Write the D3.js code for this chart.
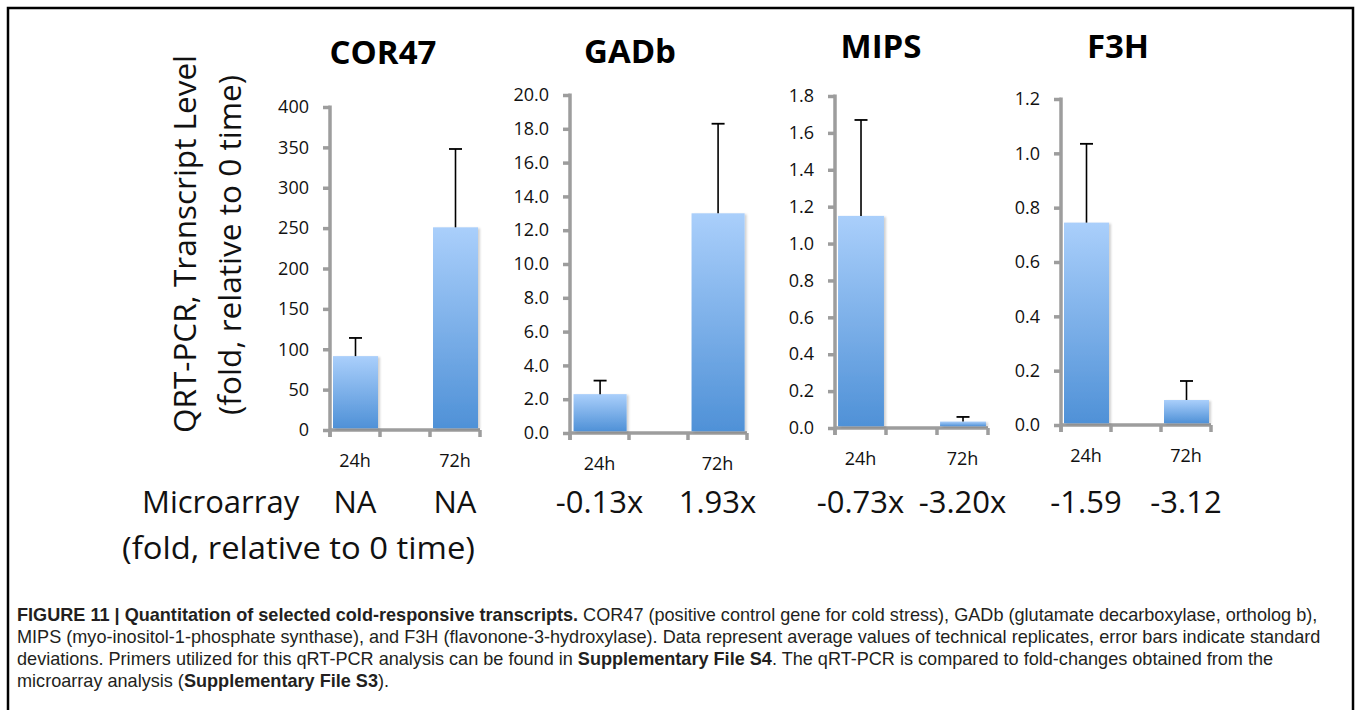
<!DOCTYPE html>
<html lang="en">
<head>
<meta charset="utf-8">
<title>Quantitation of selected cold-responsive transcripts</title>
<script src="https://d3js.org/d3.v7.min.js"></script>
<style>
body { margin: 0; background: #fff; }
svg text { font-family: "Open Sans", sans-serif; }
.caption text, .caption tspan { font-family: "Liberation Sans", Arial, sans-serif; }
</style>
</head>
<body>
<script>
// 1. data
const genes = ["COR47", "GADb", "MIPS", "F3H"];
const timepoints = ["24h", "72h"];
const qpcrMeans = [[91.5, 251], [2.3, 13.0], [1.15, 0.035], [0.745, 0.092]];
const qpcrSDs = [[22.5, 97], [0.8, 5.3], [0.52, 0.025], [0.29, 0.07]];
const yMaxes = [400, 20, 1.8, 1.2];
const yTickSteps = [50, 2, 0.2, 0.2];
const yTickFormats = ["d", ".1f", ".1f", ".1f"];
const microarrayFolds = [["NA", "NA"], ["-0.13x", "1.93x"], ["-0.73x", "-3.20x"], ["-1.59", "-3.12"]];

// 2. layout of each little panel (pixels)
const panelLayout = [
    {x0: 330, top: 107, zero: 430, band: 50, titleX: 383, titleY: 64},
    {x0: 570, top: 95,  zero: 433, band: 59, titleX: 630, titleY: 63},
    {x0: 835, top: 96,  zero: 428, band: 51, titleX: 881, titleY: 58},
    {x0: 1061, top: 99, zero: 425, band: 50, titleX: 1118, titleY: 58}
];
const svgWidth = 1358;
const svgHeight = 710;
const axisColor = "#9d9d9d";

const svg = d3.select("body")
    .append("svg")
    .attr("width", svgWidth)
    .attr("height", svgHeight);

svg.append("rect")
    .attr("width", svgWidth)
    .attr("height", svgHeight)
    .attr("fill", "#fff");

// frame round the whole figure (bottom edge is cut off)
svg.append("rect")
    .attr("x", 8).attr("y", 8)
    .attr("width", 1345).attr("height", 740)
    .attr("fill", "none")
    .attr("stroke", "#000")
    .attr("stroke-width", 2.5);

const defs = svg.append("defs");
const grad = defs.append("linearGradient")
    .attr("id", "barGrad")
    .attr("x1", 0).attr("y1", 0).attr("x2", 0).attr("y2", 1);
grad.append("stop").attr("offset", "0%").attr("stop-color", "#aacffb");
grad.append("stop").attr("offset", "100%").attr("stop-color", "#4f91d7");

const shadow = defs.append("filter").attr("id", "shadow")
    .attr("x", "-20%").attr("y", "-20%").attr("width", "140%").attr("height", "140%");
shadow.append("feDropShadow")
    .attr("dx", 2).attr("dy", 1)
    .attr("stdDeviation", 1)
    .attr("flood-color", "#000")
    .attr("flood-opacity", 0.18);

// 3. one panel per gene
genes.forEach((gene, gi) => {
    const p = panelLayout[gi];
    const g = svg.append("g");

    // empty middle slot keeps the gap between the two bars, like the original sheet
    const xScale = d3.scaleBand()
        .domain([timepoints[0], "gap", timepoints[1]])
        .range([p.x0, p.x0 + 3 * p.band])
        .padding(0);

    const yScale = d3.scaleLinear()
        .domain([0, yMaxes[gi]])
        .range([p.zero, p.top]);

    const nTicks = Math.round(yMaxes[gi] / yTickSteps[gi]);
    const tickVals = d3.range(0, nTicks + 1).map(i => +(i * yTickSteps[gi]).toFixed(4));

    //y axis
    const leftAxis = d3.axisLeft(yScale)
        .tickValues(tickVals)
        .tickSize(7)
        .tickSizeOuter(0)
        .tickPadding(14)
        .tickFormat(d3.format(yTickFormats[gi]));

    const yAxisG = g.append("g")
        .attr("transform", "translate(" + p.x0 + ",0)")
        .call(leftAxis);
    yAxisG.select(".domain").remove();
    yAxisG.selectAll(".tick line")
        .attr("stroke", axisColor)
        .attr("stroke-width", 3.5);
    yAxisG.selectAll(".tick text")
        .attr("fill", "#111")
        .style("font-size", "18px");

    g.append("line")
        .attr("x1", p.x0).attr("x2", p.x0)
        .attr("y1", p.top - 1.5).attr("y2", p.zero + 7)
        .attr("stroke", axisColor)
        .attr("stroke-width", 3.5);

    // x axis: line plus ticks on the slot edges
    const xEnd = xScale.range()[1];
    g.append("line")
        .attr("x1", p.x0).attr("x2", xEnd)
        .attr("y1", p.zero).attr("y2", p.zero)
        .attr("stroke", axisColor)
        .attr("stroke-width", 3.5);

    const edges = xScale.domain().map(d => xScale(d)).concat([xEnd]);
    g.selectAll(null)
        .data(edges)
        .enter()
        .append("line")
        .attr("x1", d => d).attr("x2", d => d)
        .attr("y1", p.zero).attr("y2", p.zero + 7)
        .attr("stroke", axisColor)
        .attr("stroke-width", 3.5);

    const rows = timepoints.map((t, ti) => ({
        t: t,
        mean: qpcrMeans[gi][ti],
        sd: qpcrSDs[gi][ti],
        fold: microarrayFolds[gi][ti]
    }));
    const bw = xScale.bandwidth();

    //bars
    g.selectAll(null)
        .data(rows)
        .enter()
        .append("rect")
        .attr("x", d => xScale(d.t) + bw * 0.06)
        .attr("y", d => yScale(d.mean))
        .attr("width", bw * 0.9)
        .attr("height", d => p.zero - 1.75 - yScale(d.mean))
        .attr("fill", "url(#barGrad)")
        .attr("filter", "url(#shadow)");

    // error bars (upper half only)
    const cx = d => xScale(d.t) + bw * 0.51;
    g.selectAll(null)
        .data(rows)
        .enter()
        .append("line")
        .attr("x1", cx).attr("x2", cx)
        .attr("y1", d => yScale(d.mean))
        .attr("y2", d => yScale(d.mean + d.sd))
        .attr("stroke", "#000")
        .attr("stroke-width", 1.6);
    g.selectAll(null)
        .data(rows)
        .enter()
        .append("line")
        .attr("x1", d => cx(d) - 6.5).attr("x2", d => cx(d) + 6.5)
        .attr("y1", d => yScale(d.mean + d.sd))
        .attr("y2", d => yScale(d.mean + d.sd))
        .attr("stroke", "#000")
        .attr("stroke-width", 1.8);

    // category labels
    g.selectAll(null)
        .data(rows)
        .enter()
        .append("text")
        .attr("x", d => xScale(d.t) + bw / 2)
        .attr("y", p.zero + 37)
        .attr("text-anchor", "middle")
        .attr("fill", "#111")
        .style("font-size", "18px")
        .text(d => d.t);

    // microarray fold changes under each bar
    g.selectAll(null)
        .data(rows)
        .enter()
        .append("text")
        .attr("x", d => xScale(d.t) + bw / 2)
        .attr("y", 513)
        .attr("text-anchor", "middle")
        .attr("fill", "#111")
        .style("font-size", "31px")
        .text(d => d.fold);

    // title
    g.append("text")
        .attr("x", p.titleX)
        .attr("y", p.titleY)
        .attr("text-anchor", "middle")
        .attr("font-weight", 700)
        .attr("fill", "#000")
        .style("font-size", "33px")
        .text(gene);
});

//4. y axis title (two lines)
svg.append("text")
    .attr("transform", "translate(196,244) rotate(-90)")
    .attr("text-anchor", "middle")
    .attr("fill", "#111")
    .attr("textLength", 378)
    .attr("lengthAdjust", "spacingAndGlyphs")
    .style("font-size", "31px")
    .text("QRT-PCR, Transcript Level");
svg.append("text")
    .attr("transform", "translate(241,245) rotate(-90)")
    .attr("text-anchor", "middle")
    .attr("fill", "#111")
    .attr("textLength", 340)
    .attr("lengthAdjust", "spacingAndGlyphs")
    .style("font-size", "31px")
    .text("(fold, relative to 0 time)");

// row label for the microarray numbers
svg.append("text")
    .attr("x", 142).attr("y", 513)
    .attr("fill", "#111")
    .style("font-size", "31px")
    .text("Microarray");
svg.append("text")
    .attr("x", 122).attr("y", 559)
    .attr("fill", "#111")
    .attr("textLength", 353)
    .attr("lengthAdjust", "spacingAndGlyphs")
    .style("font-size", "31px")
    .text("(fold, relative to 0 time)");

//5. figure caption
const captionLines = [
    [["FIGURE 11 | Quantitation of selected cold-responsive transcripts.", true],
     [" COR47 (positive control gene for cold stress), GADb (glutamate decarboxylase, ortholog b),", false]],
    [["MIPS (myo-inositol-1-phosphate synthase), and F3H (flavonone-3-hydroxylase). Data represent average values of technical replicates, error bars indicate standard", false]],
    [["deviations. Primers utilized for this qRT-PCR analysis can be found in ", false],
     ["Supplementary File S4", true],
     [". The qRT-PCR is compared to fold-changes obtained from the", false]],
    [["microarray analysis (", false], ["Supplementary File S3", true], [").", false]]
];
const captionY = [621, 643, 665, 687];

const cap = svg.append("g").attr("class", "caption");
captionLines.forEach((parts, li) => {
    const t = cap.append("text")
        .attr("x", 17)
        .attr("y", captionY[li])
        .attr("fill", "#231f20")
        .style("font-size", "18.1px")
        .attr("xml:space", "preserve");
    parts.forEach(part => {
        t.append("tspan")
            .attr("font-weight", part[1] ? 700 : 400)
            .text(part[0]);
    });
});
</script>
</body>
</html>
